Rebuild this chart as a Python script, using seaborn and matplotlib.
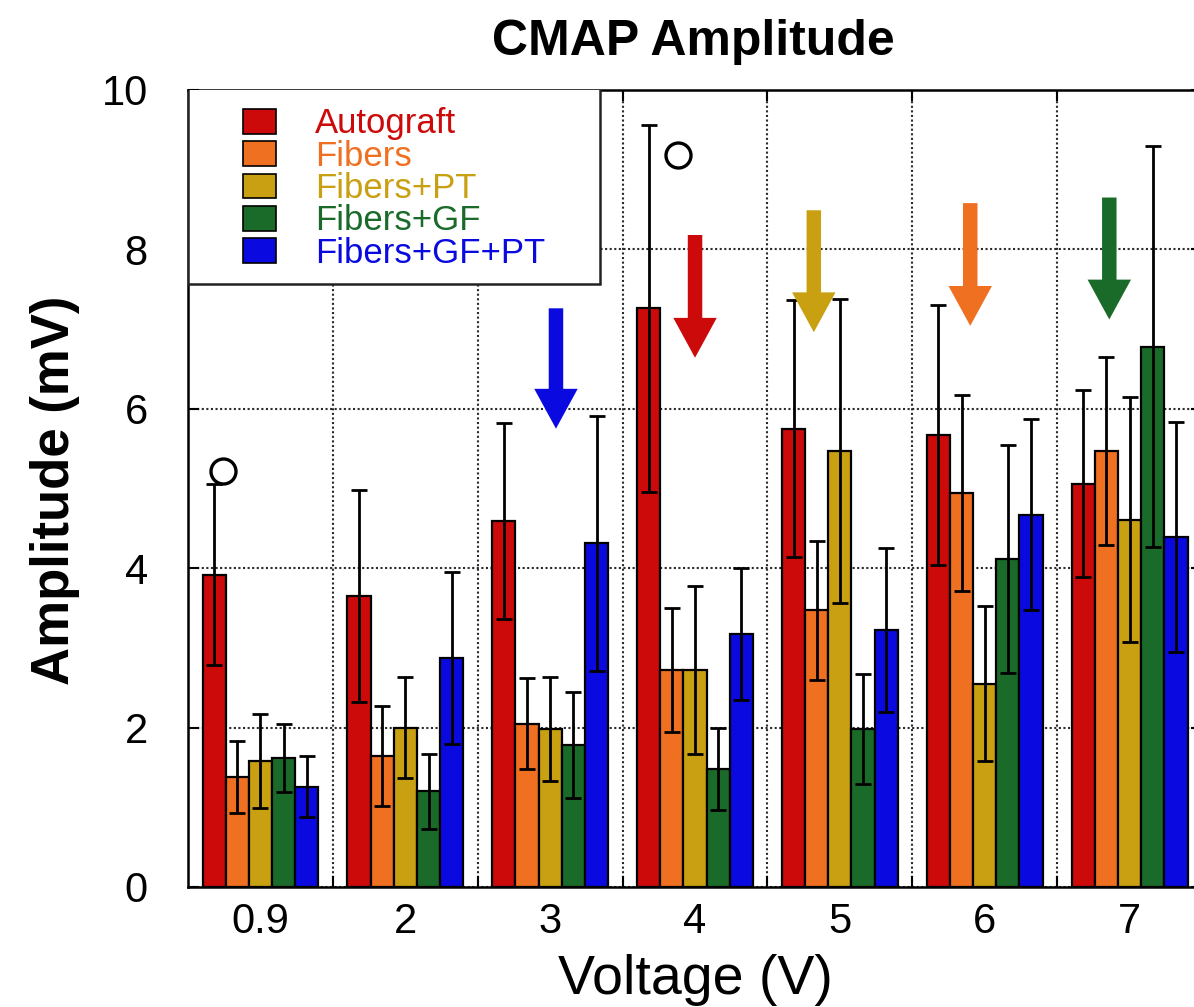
import numpy as np
import pandas as pd
import matplotlib
matplotlib.use("Agg")
import matplotlib.pyplot as plt
from matplotlib.patches import Rectangle, FancyArrow
from matplotlib.ticker import FixedLocator
import seaborn as sns

# ---- data -------------------------------------------------------------
voltages = ["0.9", "2", "3", "4", "5", "6", "7"]
groups = ["Autograft", "Fibers", "Fibers+PT", "Fibers+GF", "Fibers+GF+PT"]
colors = ["#CC0A0A", "#F07022", "#C8A012", "#1A6B2A", "#0A0AE0"]

autograft = [3.92, 3.65, 4.59, 7.26, 5.75, 5.67, 5.06]
fibers = [1.38, 1.64, 2.05, 2.72, 3.47, 4.94, 5.47]
fibers_pt = [1.58, 2.00, 1.98, 2.72, 5.47, 2.55, 4.61]
fibers_gf = [1.62, 1.20, 1.78, 1.48, 1.98, 4.11, 6.78]
fibers_gf_pt = [1.26, 2.87, 4.31, 3.17, 3.22, 4.67, 4.39]

autograft_sd = [1.14, 1.33, 1.23, 2.30, 1.61, 1.63, 1.17]
fibers_sd = [0.45, 0.63, 0.57, 0.78, 0.87, 1.23, 1.18]
fibers_pt_sd = [0.59, 0.63, 0.65, 1.05, 1.91, 0.97, 1.54]
fibers_gf_sd = [0.43, 0.47, 0.67, 0.52, 0.69, 1.43, 2.52]
fibers_gf_pt_sd = [0.38, 1.08, 1.60, 0.83, 1.03, 1.20, 1.44]

# significance arrows: x position (category units), top and tip heights
arrow_x = [2.04, 3.00, 3.82, 4.90, 5.86]
arrow_top = [7.26, 8.18, 8.49, 8.58, 8.65]
arrow_tip = [5.75, 6.64, 6.96, 7.04, 7.12]
arrow_colors = ["#0A0AE0", "#CC0A0A", "#C8A012", "#F07022", "#1A6B2A"]

# open-circle markers
circle_x = [-0.26, 2.88]
circle_y = [5.22, 9.18]

means = [autograft, fibers, fibers_pt, fibers_gf, fibers_gf_pt]
sds = [autograft_sd, fibers_sd, fibers_pt_sd, fibers_gf_sd, fibers_gf_pt_sd]

df = pd.DataFrame({
    "Voltage": np.tile(voltages, len(groups)),
    "Group": np.repeat(groups, len(voltages)),
    "Amplitude": np.concatenate(means),
})

# ---- figure -----------------------------------------------------------
sns.set_style("white")
plt.rcParams["font.family"] = ["Liberation Sans", "DejaVu Sans"]
plt.rcParams["text.color"] = "black"
plt.rcParams["axes.labelcolor"] = "black"
plt.rcParams["xtick.color"] = "black"
plt.rcParams["ytick.color"] = "black"

fig = plt.figure(figsize=(11.94, 10.07), dpi=100)
ax = fig.add_axes([0.1575, 0.1192, 0.8492, 0.7915])

sns.barplot(data=df, x="Voltage", y="Amplitude", hue="Group",
            order=voltages, hue_order=groups, palette=colors,
            saturation=1, errorbar=None, width=0.8, edgecolor="black",
            linewidth=1.6, legend=False, ax=ax, zorder=3)

# error bars placed on the drawn bars
for container, sd in zip(ax.containers, sds):
    xs = [b.get_x() + b.get_width() / 2 for b in container]
    ys = [b.get_height() for b in container]
    ax.errorbar(xs, ys, yerr=sd, fmt="none", ecolor="black",
                elinewidth=2.0, capsize=5.5, capthick=2.0, zorder=4)

ax.set_xlim(-0.5, 6.5)
ax.set_ylim(0, 10)

# grid: dotted lines between voltage groups and at even amplitudes
ax.xaxis.set_minor_locator(FixedLocator(np.arange(0.5, 6.0, 1.0)))
ax.set_yticks(np.arange(0, 11, 2))
ax.grid(False)
ax.grid(True, axis="x", which="minor", color="#2a2a2a",
        linestyle=(0, (1, 1.2)), linewidth=1.5, zorder=0)
ax.grid(True, axis="y", which="major", color="#2a2a2a",
        linestyle=(0, (1, 1.2)), linewidth=1.5, zorder=0)
ax.set_axisbelow(True)

ax.tick_params(axis="x", which="major", length=0, pad=11, labelsize=30)
ax.tick_params(axis="x", which="minor", direction="in", length=8,
               width=1.5, top=True, bottom=True, color="black")
ax.tick_params(axis="y", which="major", direction="in", length=8,
               width=1.5, left=True, right=True, pad=29, labelsize=30)
for s in ax.spines.values():
    s.set_color("black")
    s.set_linewidth(1.8)

# legend with its own frame
ax.add_patch(Rectangle((-0.5, 7.57), 2.845, 2.5, facecolor="white",
                       edgecolor="#222222", linewidth=1.8, zorder=5))
handles = [Rectangle((0, 0), 1, 1, facecolor=c, edgecolor="black",
                     linewidth=1.2) for c in colors]
leg = ax.legend(handles, groups, loc="upper left",
                bbox_to_anchor=(0.054, 0.978), frameon=False,
                borderpad=0, borderaxespad=0, fontsize=25,
                handlelength=0.97, handleheight=0.72,
                handletextpad=1.1, labelspacing=-0.02)
leg.set_zorder(6)
for txt, c in zip(leg.get_texts(), colors):
    txt.set_color(c)

# arrows
for x, top, tip, c in zip(arrow_x, arrow_top, arrow_tip, arrow_colors):
    ax.add_patch(FancyArrow(x, top, 0, tip - top, width=0.1,
                            head_width=0.3, head_length=0.5,
                            length_includes_head=True, color=c,
                            linewidth=0, zorder=6))

ax.plot(circle_x, circle_y, linestyle="none", marker="o", markersize=18,
        markerfacecolor="none", markeredgecolor="black",
        markeredgewidth=2.4, zorder=6)

ax.set_xlabel("Voltage (V)", fontsize=40, va="center")
ax.xaxis.set_label_coords(0.5, -0.117)
ax.set_ylabel("Amplitude (mV)", fontsize=38, fontweight="bold", va="center")
ax.yaxis.set_label_coords(-0.131, 0.498)

fig.text(0.581, 1 - 42 / 1007, "CMAP Amplitude", fontsize=36,
         fontweight="bold", ha="center", va="center")

fig.savefig("out.png", dpi=100)
